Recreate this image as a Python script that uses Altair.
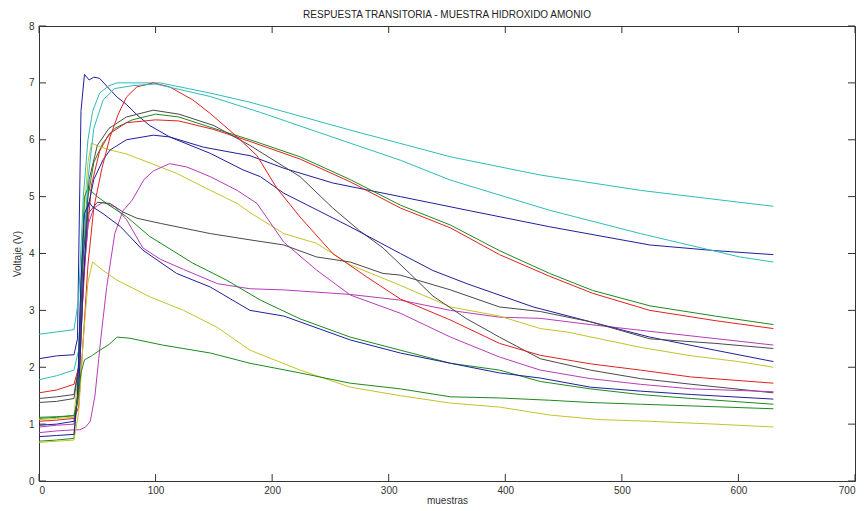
import altair as alt
import pandas as pd

# ---- data (sample index, voltage) ----
navyA_x = [0,15,30,33,36,39,43,47,52,60,67,75,85,95,112,141,170,181,210,252,310,370,438,524,580,630]
navyA_y = [2.15,2.2,2.22,2.5,6.5,7.15,7.05,7.1,7.08,6.9,6.75,6.62,6.42,6.25,6.05,5.87,5.76,5.72,5.5,5.24,5.0,4.75,4.47,4.15,4.05,3.98]

g1_x = [0,15,30,34,38,42,47,55,65,80,100,120,150,181,224,267,310,353,395,438,475,524,580,630]
g1_y = [1.1,1.12,1.15,1.5,3.5,5.0,5.6,5.95,6.2,6.35,6.45,6.4,6.2,6.0,5.7,5.3,4.85,4.5,4.05,3.65,3.35,3.08,2.9,2.75]

r2_x = [0,15,30,34,40,45,52,60,75,100,120,150,181,224,267,310,353,395,438,475,524,580,630]
r2_y = [1.55,1.6,1.7,2.0,4.0,5.2,5.8,6.1,6.3,6.35,6.33,6.18,5.97,5.66,5.26,4.8,4.45,3.98,3.6,3.3,3.0,2.82,2.68]

c1_x = [0,15,30,34,38,42,46,52,60,67,104,147,181,267,353,430,516,601,630]
c1_y = [2.58,2.62,2.66,3.2,5.0,6.0,6.5,6.82,6.95,7.0,7.0,6.82,6.66,6.17,5.7,5.38,5.11,4.9,4.83]

m1_x = [0,15,30,34,38,42,47,55,65,75,89,104,124,153,181,210,267,310,353,395,430,473,516,560,630]
m1_y = [0.95,0.98,1.0,1.5,3.5,4.5,4.8,4.9,4.82,4.6,4.1,3.9,3.72,3.47,3.38,3.36,3.28,3.18,3.0,2.88,2.86,2.75,2.65,2.55,2.39]

y1_x = [0,15,30,34,38,42,45,52,61,75,89,118,147,170,181,210,238,267,310,353,395,430,453,516,560,600,630]
y1_y = [1.08,1.1,1.12,2.0,4.5,5.6,5.94,5.88,5.82,5.75,5.64,5.41,5.11,4.88,4.72,4.35,4.18,3.8,3.44,3.06,2.9,2.68,2.62,2.35,2.2,2.1,2.0]

k1_x = [0,15,30,34,38,43,50,60,75,98,120,150,181,224,252,275,295,318,338,367,395,430,473,516,560,630]
k1_y = [1.45,1.48,1.52,2.0,4.0,5.3,5.9,6.2,6.4,6.52,6.45,6.25,5.9,5.35,4.8,4.4,4.1,3.65,3.25,2.85,2.53,2.15,1.95,1.8,1.7,1.55]

navyB_x = [0,15,30,34,38,42,47,55,61,75,98,112,147,175,190,210,240,267,310,338,367,424,473,524,580,630]
navyB_y = [0.98,1.0,1.05,1.6,3.5,4.8,5.3,5.65,5.82,6.0,6.08,6.05,5.76,5.47,5.35,5.06,4.75,4.47,4.0,3.7,3.47,3.06,2.8,2.53,2.3,2.1]

g2_x = [0,15,30,33,36,39,42,50,60,75,95,132,161,190,224,267,310,353,395,430,473,516,560,630]
g2_y = [0.7,0.72,0.75,1.5,3.5,5.0,5.15,5.0,4.85,4.65,4.3,3.83,3.53,3.18,2.85,2.53,2.3,2.07,1.95,1.75,1.62,1.52,1.45,1.35]

r1_x = [0,15,30,34,38,42,47,54,61,68,75,84,98,112,132,147,170,187,204,224,252,281,310,353,395,430,473,516,559,630]
r1_y = [1.05,1.07,1.1,1.3,2.5,3.8,4.8,5.5,6.05,6.45,6.75,6.93,7.0,6.93,6.7,6.46,6.05,5.72,5.15,4.64,4.0,3.59,3.2,2.83,2.42,2.21,2.06,1.95,1.83,1.72]

c2_x = [0,15,30,34,38,42,47,55,65,80,100,147,190,267,310,353,438,516,601,630]
c2_y = [1.78,1.85,1.95,2.3,4.0,5.3,6.2,6.7,6.9,6.95,6.98,6.76,6.48,5.94,5.64,5.29,4.76,4.35,3.94,3.85]

m2_x = [0,15,30,35,40,44,48,53,58,65,72,80,90,98,112,127,147,170,187,210,238,267,310,353,395,430,473,516,560,630]
m2_y = [0.85,0.88,0.9,0.9,0.95,1.05,1.5,2.5,3.4,4.35,4.75,4.94,5.3,5.45,5.58,5.52,5.35,5.11,4.88,4.2,3.71,3.27,2.95,2.53,2.18,1.95,1.8,1.7,1.62,1.57]

y2_x = [0,15,30,34,38,42,46,55,67,95,124,153,181,224,267,310,353,395,438,480,524,580,630]
y2_y = [0.68,0.7,0.72,1.2,2.5,3.5,3.85,3.7,3.53,3.24,3.0,2.7,2.3,1.95,1.65,1.5,1.37,1.3,1.16,1.08,1.05,1.0,0.95]

k2_x = [0,15,30,34,38,42,50,61,72,84,104,147,181,210,238,267,295,310,353,395,430,473,524,580,630]
k2_y = [1.38,1.4,1.45,2.0,4.0,4.7,4.9,4.88,4.73,4.62,4.53,4.35,4.24,4.15,3.94,3.85,3.65,3.62,3.36,3.06,2.98,2.8,2.5,2.42,2.33]

navyC_x = [0,15,30,33,36,39,43,46,55,70,89,118,147,181,210,267,310,353,395,430,473,516,560,630]
navyC_y = [0.78,0.8,0.82,1.5,3.5,4.7,4.9,4.82,4.7,4.47,4.06,3.65,3.41,3.0,2.9,2.48,2.25,2.07,1.9,1.81,1.65,1.58,1.52,1.44]

g3_x = [0,15,30,33,36,39,45,50,60,67,78,106,147,181,224,267,310,353,395,438,473,516,560,630]
g3_y = [1.12,1.13,1.15,1.4,1.9,2.13,2.2,2.27,2.4,2.53,2.51,2.39,2.25,2.07,1.9,1.72,1.62,1.48,1.46,1.42,1.38,1.35,1.32,1.27]

series_names = ["s01","s02","s03","s04","s05","s06","s07","s08",
                "s09","s10","s11","s12","s13","s14","s15","s16"]
series_colors = ["#1f1f9e","#1e8a1e","#e02222","#2fbcbc","#b83cb8","#c4c42a","#4a4a4a","#1f1f9e",
                 "#1e8a1e","#e02222","#2fbcbc","#b83cb8","#c4c42a","#4a4a4a","#1f1f9e","#1e8a1e"]
series_data = [(navyA_x, navyA_y), (g1_x, g1_y), (r2_x, r2_y), (c1_x, c1_y),
               (m1_x, m1_y), (y1_x, y1_y), (k1_x, k1_y), (navyB_x, navyB_y),
               (g2_x, g2_y), (r1_x, r1_y), (c2_x, c2_y), (m2_x, m2_y),
               (y2_x, y2_y), (k2_x, k2_y), (navyC_x, navyC_y), (g3_x, g3_y)]

x_ticks = [0, 100, 200, 300, 400, 500, 600, 700]
y_ticks = [0, 1, 2, 3, 4, 5, 6, 7, 8]

rows = []
for name, (xs, ys) in zip(series_names, series_data):
    for j, (xv, yv) in enumerate(zip(xs, ys)):
        rows.append({"serie": name, "muestra": xv, "voltaje": yv, "ord": j})
df = pd.DataFrame(rows)
xt = pd.DataFrame({"muestra": x_ticks})
yt = pd.DataFrame({"voltaje": y_ticks})

W, H = 816, 455
TL = 7
FONT = "Liberation Sans"

xscale = alt.Scale(domain=[0, 700], nice=False, zero=False)
yscale = alt.Scale(domain=[0, 8], nice=False, zero=False)
xaxis = alt.Axis(title="muestras", values=x_ticks, ticks=False, domain=False,
                 grid=False, labelPadding=4, titlePadding=0, format="d")
yaxis = alt.Axis(title="Voltaje (V)", values=y_ticks, ticks=False, domain=False,
                 grid=False, labelPadding=5, titlePadding=6, format="d")

X = alt.X("muestra:Q", scale=xscale, axis=xaxis)
Y = alt.Y("voltaje:Q", scale=yscale, axis=yaxis)

lines = alt.Chart(df).mark_line(strokeWidth=1).encode(
    x=X, y=Y,
    color=alt.Color("serie:N", scale=alt.Scale(domain=series_names, range=series_colors), legend=None),
    detail="serie:N",
    order="ord:Q",
)

tick_color = "#333333"
xb = alt.Chart(xt).mark_rule(color=tick_color, strokeWidth=1).encode(
    x=X, y=alt.value(H - TL), y2=alt.value(H))
xtop = alt.Chart(xt).mark_rule(color=tick_color, strokeWidth=1).encode(
    x=X, y=alt.value(0), y2=alt.value(TL))
yl = alt.Chart(yt).mark_rule(color=tick_color, strokeWidth=1).encode(
    y=Y, x=alt.value(0), x2=alt.value(TL))
yr = alt.Chart(yt).mark_rule(color=tick_color, strokeWidth=1).encode(
    y=Y, x=alt.value(W - TL), x2=alt.value(W))

chart = alt.layer(lines, xb, xtop, yl, yr).properties(
    width=W, height=H,
    background="white",
    title=alt.TitleParams(text="RESPUESTA TRANSITORIA - MUESTRA HIDROXIDO AMONIO",
                          fontSize=10, fontWeight="normal", font=FONT, color="#222222",
                          offset=1, anchor="middle", frame="group"),
    padding={"left": 31, "top": 18, "right": 1, "bottom": 28},
    autosize=alt.AutoSizeParams(type="none"),
).configure_view(
    stroke="#333333", strokeWidth=1
).configure_axis(
    labelFont=FONT, labelFontSize=10, labelColor="#333333",
    titleFont=FONT, titleFontSize=10, titleFontWeight="normal", titleColor="#333333",
)

chart.save("out.html", embed_options={"renderer": "svg", "actions": False})
